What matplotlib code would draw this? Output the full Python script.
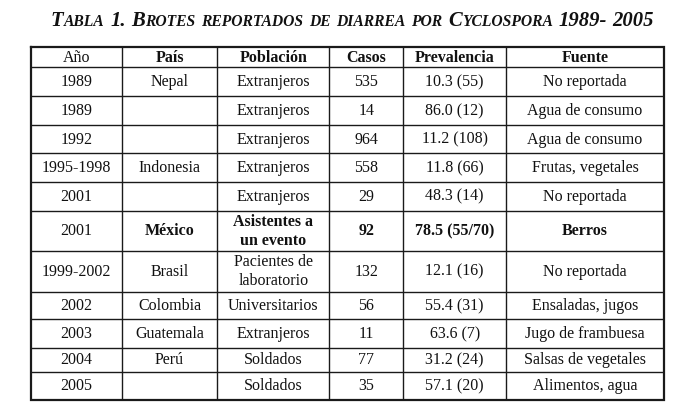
import matplotlib
matplotlib.use("Agg")
import matplotlib.pyplot as plt

# datos de la tabla
titulo = "Tabla 1. Brotes reportados de diarrea por Cyclospora 1989- 2005"
encabezados = ["Año", "País", "Población", "Casos", "Prevalencia", "Fuente"]
anios = ["1989", "1989", "1992", "1995-1998", "2001", "2001", "1999-2002",
         "2002", "2003", "2004", "2005"]
paises = ["Nepal", "", "", "Indonesia", "", "México", "Brasil",
          "Colombia", "Guatemala", "Perú", ""]
poblaciones = ["Extranjeros", "Extranjeros", "Extranjeros", "Extranjeros",
               "Extranjeros", "Asistentes a\nun evento", "Pacientes de\nlaboratorio",
               "Universitarios", "Extranjeros", "Soldados", "Soldados"]
casos = [535, 14, 964, 558, 29, 92, 132, 56, 11, 77, 35]
prevalencias = ["10.3 (55)", "86.0 (12)", "11.2 (108)", "11.8 (66)", "48.3 (14)",
                "78.5 (55/70)", "12.1 (16)", "55.4 (31)", "63.6 (7)", "31.2 (24)",
                "57.1 (20)"]
fuentes = ["No reportada", "Agua de consumo", "Agua de consumo", "Frutas, vegetales",
           "No reportada", "Berros", "No reportada", "Ensaladas, jugos",
           "Jugo de frambuesa", "Salsas de vegetales", "Alimentos, agua"]
fila_negrita = 5  # México

# geometria en pixeles
col_x = [30.7, 121.7, 217.3, 329.3, 403.3, 506, 664]
fila_y = [47.3, 67.3, 96, 125, 153.3, 181.7, 210.7, 251, 291.7, 319.3, 347.7, 371.7, 400]

W, H = 681, 408
fig = plt.figure(figsize=(W / 100, H / 100), dpi=100)
ax = fig.add_axes([0, 0, 1, 1])
ax.set_xlim(0, W)
ax.set_ylim(H, 0)
ax.axis("off")

fuente = "Liberation Serif"
fs = 11.5
color_linea = "#1a1a1a"

# lineas interiores
ax.hlines(fila_y[1:-1], col_x[0], col_x[-1], color=color_linea, lw=1.0)
ax.vlines(col_x[1:-1], fila_y[0], fila_y[-1], color=color_linea, lw=1.0)
# borde exterior
ax.plot([col_x[0], col_x[-1], col_x[-1], col_x[0], col_x[0]],
        [fila_y[0], fila_y[0], fila_y[-1], fila_y[-1], fila_y[0]],
        color=color_linea, lw=1.6, solid_joinstyle="miter")


def celda(texto, c, r0, r1, bold=False):
    xc = (col_x[c] + col_x[c + 1]) / 2
    yc = (r0 + r1) / 2
    ax.text(xc, yc + 0.5, texto, ha="center", va="center", family=fuente,
            fontsize=fs, weight="bold" if bold else "normal", color="#111",
            linespacing=1.25, multialignment="center")


for c, h in enumerate(encabezados):
    celda(h, c, fila_y[0], fila_y[1], bold=(c > 0))

for i in range(len(anios)):
    r0, r1 = fila_y[i + 1], fila_y[i + 2]
    b = i == fila_negrita
    fila = [anios[i], paises[i], poblaciones[i], str(casos[i]), prevalencias[i], fuentes[i]]
    for c, t in enumerate(fila):
        celda(t, c, r0, r1, bold=(b and c > 0))


# titulo en versalitas
def versalitas(s, x0, y, size, ratio=0.76, dibujar=True):
    fig.canvas.draw()
    r = fig.canvas.get_renderer()
    x = x0
    trozos = []
    actual = ""
    tipo = None
    for ch in s:
        t = "esp" if ch == " " else ("min" if ch.islower() else "may")
        if t != tipo and actual:
            trozos.append((actual, tipo))
            actual = ""
        actual += ch
        tipo = t
    trozos.append((actual, tipo))
    objs = []
    for txt, t in trozos:
        if t == "esp":
            x += 0.26 * size * len(txt) * 100 / 72
            continue
        tam = size * ratio if t == "min" else size
        o = ax.text(x, y, txt.upper(), ha="left", va="baseline", family=fuente,
                    style="italic", weight="bold", fontsize=tam, color="#111")
        w = o.get_window_extent(renderer=r).width
        x += w + 0.3
        objs.append(o)
    if not dibujar:
        for o in objs:
            o.remove()
    return x - x0


t_size = 14
ancho = versalitas(titulo, 51, 25.7, t_size, dibujar=False)
t_size = t_size * 605 / ancho
versalitas(titulo, 51, 25.7, t_size)

fig.savefig("out.png", dpi=100, facecolor="white")
